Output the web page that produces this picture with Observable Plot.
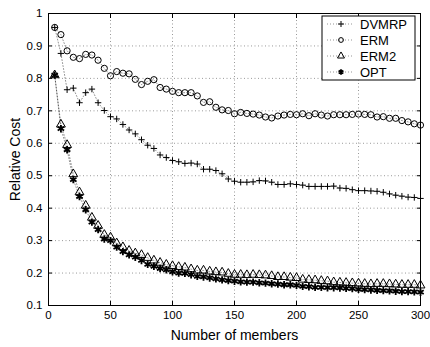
<!DOCTYPE html>
<html>
<head>
<meta charset="utf-8">
<script src="https://cdn.jsdelivr.net/npm/d3@7"></script>
<script src="https://cdn.jsdelivr.net/npm/@observablehq/plot@0.6"></script>
<style>
  html, body { margin: 0; padding: 0; background: #fff; }
  #wrap { position: relative; width: 430px; height: 347px; }
  #legend { position: absolute; left: 0; top: 0; }
</style>
</head>
<body>
<div id="wrap"></div>
<script>
const members = [5,10,15,20,25,30,35,40,45,50,55,60,65,70,75,80,85,90,95,100,
  105,110,115,120,125,130,135,140,145,150,155,160,165,170,175,180,185,190,195,200,
  205,210,215,220,225,230,235,240,245,250,255,260,265,270,275,280,285,290,295,300];

const dvmrp = [0.957,0.877,0.765,0.770,0.725,0.756,0.767,0.725,0.701,0.682,
  0.675,0.658,0.641,0.629,0.611,0.594,0.584,0.564,0.556,0.547,
  0.543,0.538,0.539,0.536,0.520,0.520,0.516,0.506,0.490,0.483,
  0.480,0.480,0.481,0.485,0.484,0.480,0.473,0.473,0.475,0.473,
  0.471,0.467,0.467,0.467,0.467,0.468,0.462,0.461,0.457,0.454,
  0.454,0.453,0.452,0.449,0.444,0.440,0.437,0.434,0.433,0.430];

const erm = [0.957,0.935,0.885,0.865,0.861,0.874,0.872,0.856,0.831,0.808,
  0.821,0.816,0.814,0.797,0.781,0.791,0.796,0.772,0.767,0.760,
  0.756,0.756,0.756,0.746,0.726,0.728,0.711,0.703,0.701,0.691,
  0.695,0.692,0.690,0.687,0.681,0.678,0.684,0.687,0.689,0.688,
  0.691,0.685,0.691,0.687,0.684,0.688,0.688,0.688,0.689,0.690,
  0.689,0.688,0.681,0.682,0.677,0.677,0.670,0.666,0.660,0.656];

const erm2 = [0.810,0.658,0.595,0.505,0.449,0.408,0.371,0.346,0.318,0.310,
  0.292,0.280,0.269,0.261,0.256,0.247,0.239,0.232,0.226,0.222,
  0.219,0.217,0.212,0.208,0.208,0.205,0.203,0.202,0.198,0.195,
  0.195,0.194,0.195,0.194,0.193,0.191,0.188,0.188,0.186,0.185,
  0.180,0.179,0.178,0.176,0.175,0.172,0.171,0.170,0.169,0.168,
  0.167,0.166,0.167,0.167,0.166,0.165,0.164,0.164,0.164,0.162];

const opt = [0.810,0.645,0.580,0.488,0.436,0.395,0.357,0.334,0.305,0.300,
  0.280,0.266,0.256,0.249,0.239,0.227,0.221,0.214,0.210,0.204,
  0.200,0.199,0.195,0.190,0.188,0.185,0.182,0.179,0.177,0.175,
  0.173,0.172,0.172,0.170,0.169,0.167,0.166,0.164,0.164,0.162,
  0.159,0.158,0.156,0.156,0.155,0.155,0.154,0.153,0.152,0.150,
  0.149,0.148,0.147,0.146,0.145,0.144,0.143,0.143,0.142,0.141];

const seriesNames = ["DVMRP", "ERM", "ERM2", "OPT"];
const seriesValues = [dvmrp, erm, erm2, opt];
const seriesSymbols = ["plus", "circle", "triangle", "asterisk"];

const xTicks = [0, 50, 100, 150, 200, 250, 300];
const yTicks = [0.1, 0.2, 0.3, 0.4, 0.5, 0.6, 0.7, 0.8, 0.9, 1];
const yTickLabels = ["0.1", "0.2", "0.3", "0.4", "0.5", "0.6", "0.7", "0.8", "0.9", "1"];
const xTitle = "Number of members";
const yTitle = "Relative Cost";

const rows = seriesNames.flatMap((name, i) =>
  members.map((m, j) => ({ name, x: m, y: seriesValues[i][j] })));

const FONT = "'Liberation Sans', Arial, Helvetica, sans-serif";
const gridStyle = { stroke: "#000", strokeOpacity: 0.5, strokeWidth: 0.8, strokeDasharray: "1,2.5" };
const lineStyle = { stroke: "#000", strokeOpacity: 0.6, strokeWidth: 0.7, strokeDasharray: "1,2" };

// thin MATLAB-like plus (stroke only)
const thinPlus = {
  draw(context, size) {
    const r = Math.sqrt(size / Math.PI);
    context.moveTo(-r, 0); context.lineTo(r, 0);
    context.moveTo(0, -r); context.lineTo(0, r);
  }
};
const symbolFor = { plus: thinPlus, circle: d3.symbolCircle, triangle: d3.symbolTriangle, asterisk: d3.symbolAsterisk };
const sizeFor = { plus: 3.2, circle: 3.1, triangle: 3.3, asterisk: 3.5 };

const dotMarks = seriesNames.map((name, i) => {
  const sym = seriesSymbols[i];
  return Plot.dot(rows.filter(d => d.name === name), {
    x: "x", y: "y", symbol: symbolFor[sym], r: sizeFor[sym],
    stroke: "black", fill: "none", strokeWidth: sym === "asterisk" ? 1.8 : 1
  });
});

const chart = Plot.plot({
  width: 430,
  height: 347,
  marginLeft: 48,
  marginRight: 10,
  marginTop: 13,
  marginBottom: 42,
  style: { fontFamily: FONT, background: "white", color: "black", overflow: "visible" },
  x: { domain: [0, 300], label: null },
  y: { domain: [0.1, 1], label: null },
  marks: [
    Plot.gridX(xTicks, gridStyle),
    Plot.gridY(yTicks, gridStyle),
    Plot.line(rows, { x: "x", y: "y", z: "name", ...lineStyle }),
    ...dotMarks,
    Plot.axisX(xTicks, { anchor: "bottom", tickSize: 0, tickPadding: 5, fontSize: 11.5,
      label: xTitle, labelAnchor: "center", labelArrow: "none", labelOffset: 34 }),
    Plot.axisY(yTicks, { anchor: "left", tickSize: 0, tickPadding: 6, fontSize: 11.5,
      tickFormat: d => yTickLabels[yTicks.indexOf(d)],
      label: yTitle, labelAnchor: "center", labelArrow: "none", labelOffset: 38 }),
    Plot.axisX(xTicks, { anchor: "bottom", tickSize: -4, fill: "none", label: null }),
    Plot.axisX(xTicks, { anchor: "top", tickSize: -4, fill: "none", label: null }),
    Plot.axisY(yTicks, { anchor: "left", tickSize: -4, fill: "none", label: null }),
    Plot.axisY(yTicks, { anchor: "right", tickSize: -4, fill: "none", label: null }),
    Plot.frame({ stroke: "black", strokeWidth: 1 })
  ]
});

d3.select(chart).selectAll("[aria-label='x-axis label'] text, [aria-label='y-axis label'] text")
  .style("font-size", "14px");

document.getElementById("wrap").appendChild(chart);

// legend (top right, inside plot area)
const lg = d3.select("#wrap").append("svg")
  .attr("id", "legend").attr("width", 430).attr("height", 347)
  .style("font-family", FONT);
const bx = 322, by = 16, bw = 93, bh = 64;
lg.append("rect").attr("x", bx).attr("y", by).attr("width", bw).attr("height", bh)
  .attr("fill", "white").attr("stroke", "black").attr("stroke-width", 1);
seriesNames.forEach((name, i) => {
  const cy = by + 8 + i * 16;
  const g = lg.append("g");
  g.append("line").attr("x1", bx + 5).attr("x2", bx + 30).attr("y1", cy).attr("y2", cy)
    .attr("stroke", "#000").attr("stroke-opacity", 0.6).attr("stroke-width", 0.7).attr("stroke-dasharray", "1,2");
  const sym = seriesSymbols[i];
  const r = sym === "circle" ? 2.4 : sym === "triangle" ? 2.6 : sym === "plus" ? 3 : 2.6;
  g.append("path").attr("d", d3.symbol(symbolFor[sym], Math.PI * r * r)())
    .attr("transform", `translate(${bx + 19},${cy})`)
    .attr("fill", "none").attr("stroke", "black").attr("stroke-width", sym === "asterisk" ? 1.8 : 1);
  g.append("text").attr("x", bx + 38).attr("y", cy).attr("dy", "0.36em")
    .attr("font-size", 13).text(name);
});
</script>
</body>
</html>
